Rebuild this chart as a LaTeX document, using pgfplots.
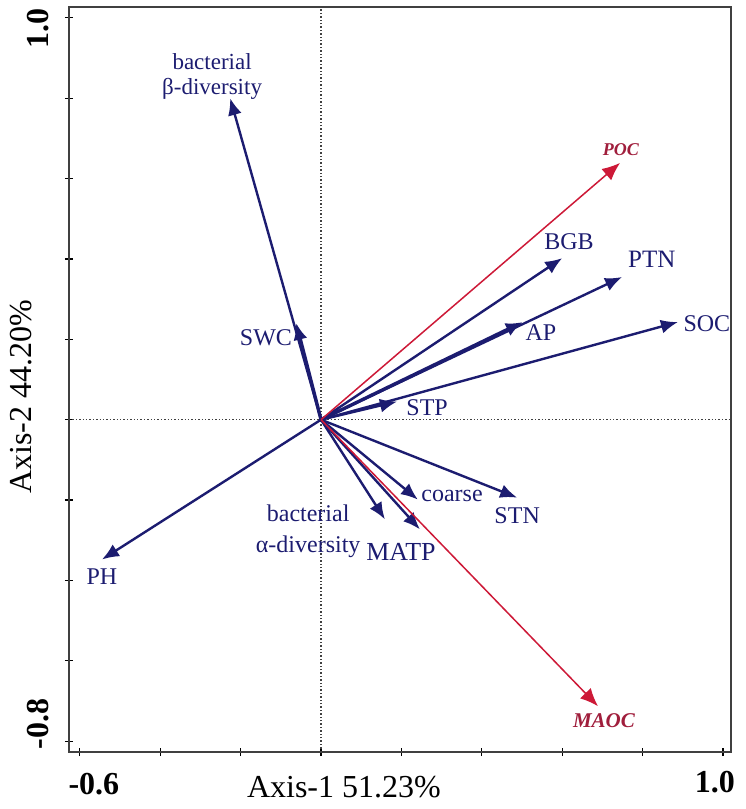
\documentclass[border=0pt]{standalone}
\usepackage{pgfplots}
\pgfplotsset{compat=1.18}
\usepackage{fontspec}
\setmainfont{Liberation Serif}
\usetikzlibrary{arrows.meta}
\definecolor{navy}{RGB}{28,28,112}
\definecolor{rrow}{RGB}{205,25,55}
\definecolor{rtext}{RGB}{160,30,60}
\begin{document}
\begin{tikzpicture}
\begin{axis}[
  scale only axis, width=331pt, height=372.5pt,
  xmin=-0.627, xmax=1.020, ymin=-0.827, ymax=1.027,
  xtick={-0.6,-0.4,-0.2,0,0.2,0.4,0.6,0.8,1.0},
  ytick={-0.8,-0.6,-0.4,-0.2,0,0.2,0.4,0.6,0.8,1.0},
  xticklabels={}, yticklabels={},
  tick pos=left, tick align=center, major tick length=4pt,
  axis line style={line width=0.8pt, black!75},
  tick style={black, line width=0.6pt},
  clip=false,
]
% zero lines
\addplot[black!75, densely dotted, line width=0.7pt] coordinates {(-0.627,0) (1.020,0)};
\addplot[black!75, densely dotted, line width=0.7pt] coordinates {(0,-0.827) (0,1.027)};
% navy arrows
\addplot[navy, line width=1.2pt, -{Latex[length=8.5pt,width=7pt]}] coordinates {(0,0) (-0.226,0.800)};
\addplot[navy, line width=1.7pt, -{Latex[length=8.5pt,width=7pt]}] coordinates {(0,0) (-0.062,0.241)};
\addplot[navy, line width=1.2pt, -{Latex[length=8.5pt,width=7pt]}] coordinates {(0,0) (0.189,0.045)};
\addplot[navy, line width=1.2pt, -{Latex[length=8.5pt,width=7pt]}] coordinates {(0,0) (0.600,0.402)};
\addplot[navy, line width=1.2pt, -{Latex[length=8.5pt,width=7pt]}] coordinates {(0,0) (0.749,0.355)};
\addplot[navy, line width=1.7pt, -{Latex[length=8.5pt,width=7pt]}] coordinates {(0,0) (0.502,0.243)};
\addplot[navy, line width=1.2pt, -{Latex[length=8.5pt,width=7pt]}] coordinates {(0,0) (0.888,0.243)};
\addplot[navy, line width=1.2pt, -{Latex[length=8.5pt,width=7pt]}] coordinates {(0,0) (0.488,-0.194)};
\addplot[navy, line width=1.2pt, -{Latex[length=8.5pt,width=7pt]}] coordinates {(0,0) (0.241,-0.199)};
\addplot[navy, line width=1.2pt, -{Latex[length=8.5pt,width=7pt]}] coordinates {(0,0) (0.159,-0.248)};
\addplot[navy, line width=1.2pt, -{Latex[length=8.5pt,width=7pt]}] coordinates {(0,0) (0.246,-0.273)};
\addplot[navy, line width=1.2pt, -{Latex[length=8.5pt,width=7pt]}] coordinates {(0,0) (-0.545,-0.348)};
% red arrows
\addplot[rrow, line width=0.75pt, -{Latex[length=9pt,width=7.5pt]}] coordinates {(0,0) (0.744,0.639)};
\addplot[rrow, line width=0.75pt, -{Latex[length=9pt,width=7.5pt]}] coordinates {(0,0) (0.689,-0.713)};
% labels
\node[navy, font=\fontsize{11.5}{12.5}\selectfont, align=center] at (axis cs:-0.271,0.855) {bacterial\\β-diversity};
\node[navy, font=\fontsize{12}{14}\selectfont] at (axis cs:-0.137,0.204) {SWC};
\node[navy, font=\fontsize{12}{14}\selectfont] at (axis cs:0.264,0.030) {STP};
\node[navy, font=\fontsize{12}{14}\selectfont] at (axis cs:0.326,-0.190) {coarse};
\node[navy, font=\fontsize{12}{14}\selectfont] at (axis cs:0.488,-0.239) {STN};
\node[navy, font=\fontsize{12}{15.5}\selectfont, align=center] at (axis cs:-0.032,-0.278) {bacterial\\α-diversity};
\node[navy, font=\fontsize{13}{15}\selectfont] at (axis cs:0.199,-0.328) {MATP};
\node[navy, font=\fontsize{12}{14}\selectfont] at (axis cs:0.617,0.442) {BGB};
\node[navy, font=\fontsize{12.5}{14}\selectfont] at (axis cs:0.823,0.398) {PTN};
\node[navy, font=\fontsize{12}{14}\selectfont] at (axis cs:0.547,0.216) {AP};
\node[navy, font=\fontsize{12}{14}\selectfont] at (axis cs:0.960,0.239) {SOC};
\node[navy, font=\fontsize{12}{14}\selectfont] at (axis cs:-0.545,-0.390) {PH};
\node[rtext, font=\fontsize{9}{10}\selectfont\bfseries\itshape] at (axis cs:0.746,0.673) {POC};
\node[rtext, font=\fontsize{10.5}{12}\selectfont\bfseries\itshape] at (axis cs:0.704,-0.750) {MAOC};
% tick labels and axis titles
\node[font=\fontsize{16}{17}\selectfont\bfseries] at (axis cs:-0.565,-0.907) {-0.6};
\node[font=\fontsize{16}{17}\selectfont\bfseries] at (axis cs:0.980,-0.903) {1.0};
\node[font=\fontsize{16}{17}\selectfont\bfseries, rotate=90] at (axis cs:-0.703,0.974) {1.0};
\node[font=\fontsize{16}{17}\selectfont\bfseries, rotate=90] at (axis cs:-0.703,-0.758) {-0.8};
\node[font=\fontsize{16}{18}\selectfont] at (axis cs:0.057,-0.914) {Axis-1 51.23\%};
\node[font=\fontsize{16}{18}\selectfont, rotate=90] at (axis cs:-0.746,0.057) {Axis-2 44.20\%};
\end{axis}
\pgfresetboundingbox
\path (current axis.south west) ++(-34.5pt,-28.5pt) rectangle ([xshift=7pt,yshift=3.5pt]current axis.north east);
\end{tikzpicture}
\end{document}
